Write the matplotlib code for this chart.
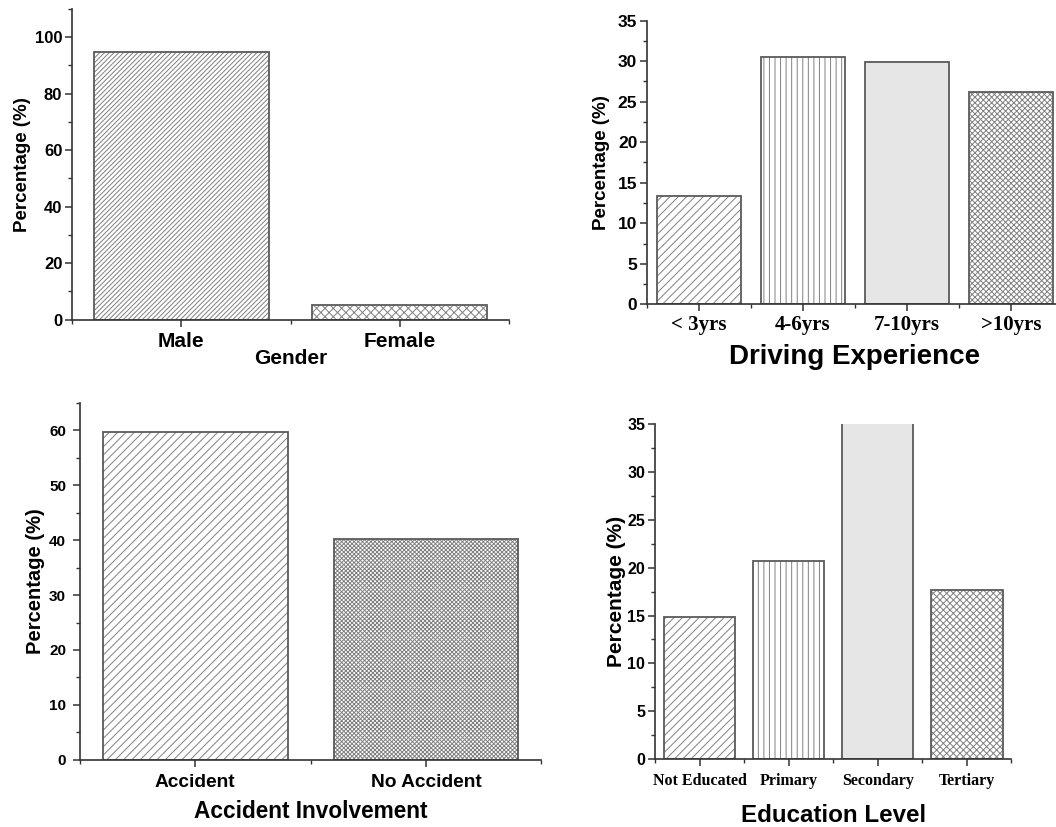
import matplotlib
matplotlib.use("Agg")
import matplotlib.pyplot as plt
from matplotlib.ticker import MultipleLocator

# ---- data ----
gender_labels = ["Male", "Female"]
gender_values = [94.9, 5.1]

experience_labels = ["< 3yrs", "4-6yrs", "7-10yrs", ">10yrs"]
experience_values = [13.4, 30.5, 29.9, 26.2]

accident_labels = ["Accident", "No Accident"]
accident_values = [59.7, 40.3]

education_labels = ["Not Educated", "Primary", "Secondary", "Tertiary"]
education_values = [14.9, 20.7, 46.7, 17.7]

W, H = 1056, 827
plt.rcParams["hatch.linewidth"] = 0.7
SANS = "Liberation Sans"
SERIF = "Liberation Serif"
NARROW = ["Liberation Sans Narrow", "Liberation Sans"]
EDGE = "#5a5a5a"
HATCH = "#808080"
SPINE = "#333333"

fig = plt.figure(figsize=(W / 100, H / 100), dpi=100)


def px_axes(left, top, right, bottom):
    return fig.add_axes([left / W, 1 - bottom / H, (right - left) / W, (bottom - top) / H])


def style_axes(ax, major, minor, tick_fs, tick_family):
    for s in ("top", "right"):
        ax.spines[s].set_visible(False)
    for s in ("left", "bottom"):
        ax.spines[s].set_color(SPINE)
        ax.spines[s].set_linewidth(1.2)
    ax.yaxis.set_major_locator(MultipleLocator(major))
    ax.yaxis.set_minor_locator(MultipleLocator(minor))
    ax.xaxis.set_minor_locator(MultipleLocator(0.5))
    ax.tick_params(which="major", direction="out", length=5, width=1.1, color=SPINE)
    ax.tick_params(which="minor", direction="out", length=3, width=1.0, color=SPINE)
    ax.tick_params(axis="y", which="major", pad=2)
    for lab in ax.get_yticklabels():
        lab.set_fontweight("bold")
        lab.set_fontsize(tick_fs)
        lab.set_family(tick_family)


def place_labels(ax, box, ylab_x, xlab_y, xfs, yfs, yfamily=SANS):
    left, top, right, bottom = box
    ax.set_ylabel("Percentage (%)", fontsize=yfs, fontweight="bold", family=yfamily,
                  va="center")
    ax.yaxis.set_label_coords((ylab_x - left) / (right - left), 0.5)
    ax.xaxis.label.set_fontsize(xfs)
    ax.xaxis.label.set_fontweight("bold")
    ax.xaxis.label.set_family(SANS)
    ax.xaxis.label.set_va("center")
    ax.xaxis.set_label_coords(0.5, -(xlab_y - bottom) / (bottom - top))


def bars(ax, labels, values, styles, width=0.8):
    x = list(range(1, len(labels) + 1))
    for xi, v, (fc, hatch) in zip(x, values, styles):
        # filled / hatched body in a lighter grey
        ax.bar(xi, v, width=width, facecolor=fc, edgecolor=HATCH, hatch=hatch,
               linewidth=0)
        # darker outline on top
        ax.bar(xi, v, width=width, fill=False, edgecolor=EDGE, linewidth=1.3)
    ax.set_xticks(x)
    return x


# ---- Gender ----
box1 = (72, 9, 509, 319.5)
ax1 = px_axes(*box1)
bars(ax1, gender_labels, gender_values, [("white", "///////"), ("white", "xxxx")])
ax1.set_xlim(0.5, 2.5)
ax1.set_ylim(0, 110)
ax1.set_xticklabels(gender_labels, fontsize=15, fontweight="bold", family=SANS)
ax1.set_xlabel("Gender")
style_axes(ax1, 20, 10, 12, SANS)
ax1.tick_params(axis="x", which="major", pad=4)
place_labels(ax1, box1, 22.7, 358, 15, 13.5)

# ---- Driving experience ----
box2 = (647, 20.7, 1063, 304.3)
ax2 = px_axes(*box2)
bars(ax2, experience_labels, experience_values,
     [("white", "////"), ("white", "|||"), ("#e6e6e6", None), ("white", "xxxxxx")])
ax2.set_xlim(0.5, 4.5)
ax2.set_ylim(0, 35)
ax2.set_xticklabels(experience_labels, fontsize=15, fontweight="bold", family=SERIF)
ax2.set_xlabel("Driving Experience")
style_axes(ax2, 5, 2.5, 12.5, SANS)
ax2.tick_params(axis="x", which="major", pad=3)
place_labels(ax2, box2, 601, 357, 20, 13.5)

# ---- Accident involvement ----
box3 = (80, 403, 541.3, 759.7)
ax3 = px_axes(*box3)
bars(ax3, accident_labels, accident_values, [("white", "////"), ("white", "xxxxxxxx")])
ax3.set_xlim(0.5, 2.5)
ax3.set_ylim(0, 65)
ax3.set_xticklabels(accident_labels, fontsize=13.8, fontweight="bold", family=SANS)
ax3.set_xlabel("Accident Involvement")
style_axes(ax3, 10, 5, 11, SANS)
ax3.tick_params(axis="y", which="major", pad=5)
ax3.tick_params(axis="x", which="major", pad=5)
place_labels(ax3, box3, 36, 811, 16.3, 14.5)

# ---- Education level ----
box4 = (655, 424.3, 1011.5, 759)
ax4 = px_axes(*box4)
bars(ax4, education_labels, education_values,
     [("white", "////"), ("white", "|||"), ("#e6e6e6", None), ("white", "xxxxx")])
ax4.set_xlim(0.5, 4.5)
ax4.set_ylim(0, 35)
ax4.set_xticklabels(education_labels, fontsize=11.5, fontweight="bold", family=SERIF)
ax4.set_xlabel("Education Level")
style_axes(ax4, 5, 2.5, 11.5, NARROW)
ax4.tick_params(axis="x", which="major", pad=5)
place_labels(ax4, box4, 616, 815, 17.4, 15, NARROW)

fig.savefig("out.png", dpi=100)
